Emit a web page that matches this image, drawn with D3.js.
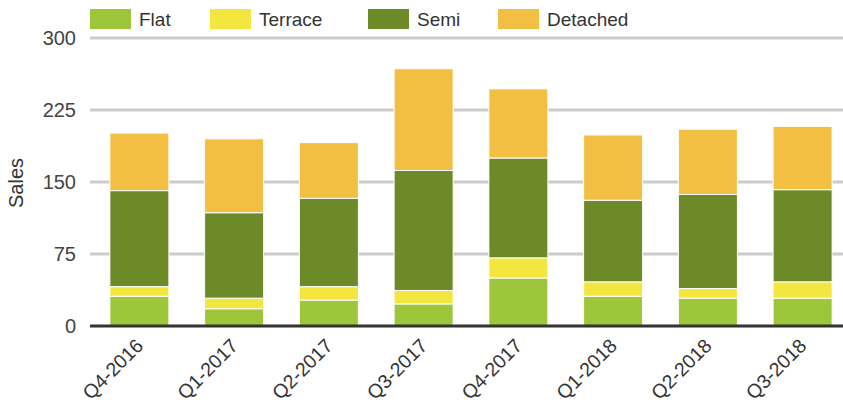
<!DOCTYPE html>
<html>
<head>
<meta charset="utf-8">
<script src="https://cdn.jsdelivr.net/npm/d3@7"></script>
<style>
  body { margin: 0; background: #fff; }
  svg { display: block; font-family: "Liberation Sans", Arial, sans-serif; }
</style>
</head>
<body>
<svg id="chart" width="843" height="412"></svg>
<script>
// data
var quarters = ["Q4-2016", "Q1-2017", "Q2-2017", "Q3-2017", "Q4-2017", "Q1-2018", "Q2-2018", "Q3-2018"];
var seriesNames = ["Flat", "Terrace", "Semi", "Detached"];
var flat = [31, 18, 27, 23, 50, 31, 29, 29];
var terrace = [10, 11, 14, 14, 21, 15, 10, 17];
var semi = [100, 89, 92, 125, 104, 85, 98, 96];
var detached = [60, 77, 58, 106, 72, 68, 68, 66];
var yTicks = [0, 75, 150, 225, 300];

var colors = ["#9dc63b", "#f3e73f", "#6c8a28", "#f3bf42"];
var chartW = 843;
var plotLeft = 90, plotTop = 38, plotBottom = 326;

var svg = d3.select("#chart");

// build rows for the stack
var rows = quarters.map(function (q, i) {
    return { q: q, Flat: flat[i], Terrace: terrace[i], Semi: semi[i], Detached: detached[i] };
});
var stacked = d3.stack().keys(seriesNames)(rows);

var x = d3.scaleBand()
    .domain(quarters)
    .range([92, 850])
    .paddingInner(0.377)
    .paddingOuter(0.1885);
var y = d3.scaleLinear().domain([0, 300]).range([plotBottom, plotTop]);

// gridlines
svg.append("g").selectAll("line")
    .data(yTicks.filter(function (d) { return d > 0; }))
    .enter().append("line")
    .attr("x1", plotLeft).attr("x2", chartW)
    .attr("y1", function (d) { return y(d); })
    .attr("y2", function (d) { return y(d); })
    .attr("stroke", "#cccccc")
    .attr("stroke-width", 3);

// y tick labels
svg.append("g").selectAll("text")
    .data(yTicks)
    .enter().append("text")
    .attr("x", 76)
    .attr("y", function (d) { return y(d) + 7; })
    .attr("text-anchor", "end")
    .attr("fill", "#444")
    .attr("font-size", 20)
    .text(function (d) { return d; });

// axis title
svg.append("text")
    .attr("transform", "translate(23,183) rotate(-90)")
    .attr("text-anchor", "middle")
    .attr("fill", "#333")
    .attr("font-size", 20)
    .text("Sales");

// bars
svg.append("g").selectAll("g")
    .data(stacked)
    .enter().append("g")
    .attr("fill", function (d, i) { return colors[i]; })
    .selectAll("rect")
    .data(function (d) { return d; })
    .enter().append("rect")
    .attr("x", function (d) { return x(d.data.q); })
    .attr("width", x.bandwidth())
    .attr("y", function (d) { return y(d[1]); })
    .attr("height", function (d) { return y(d[0]) - y(d[1]); })
    .attr("stroke", "#fff")
    .attr("stroke-width", 1);

// baseline
svg.append("line")
    .attr("x1", plotLeft).attr("x2", chartW)
    .attr("y1", y(0)).attr("y2", y(0))
    .attr("stroke", "#333")
    .attr("stroke-width", 3);

// x labels
svg.append("g").selectAll("text")
    .data(quarters)
    .enter().append("text")
    .attr("transform", function (d) {
        return "translate(" + (x(d) + x.bandwidth() / 2 + 5) + ",347) rotate(-45)";
    })
    .attr("text-anchor", "end")
    .attr("fill", "#333")
    .attr("font-size", 19.5)
    .text(function (d) { return d; });

// legend
var legendX = [90, 210, 368, 498];
var legend = svg.append("g").selectAll("g")
    .data(seriesNames)
    .enter().append("g")
    .attr("transform", function (d, i) { return "translate(" + legendX[i] + ",9)"; });
legend.append("rect")
    .attr("width", 41).attr("height", 20)
    .attr("fill", function (d, i) { return colors[i]; });
legend.append("text")
    .attr("x", 49).attr("y", 17)
    .attr("fill", "#333")
    .attr("font-size", 19)
    .text(function (d) { return d; });
</script>
</body>
</html>
